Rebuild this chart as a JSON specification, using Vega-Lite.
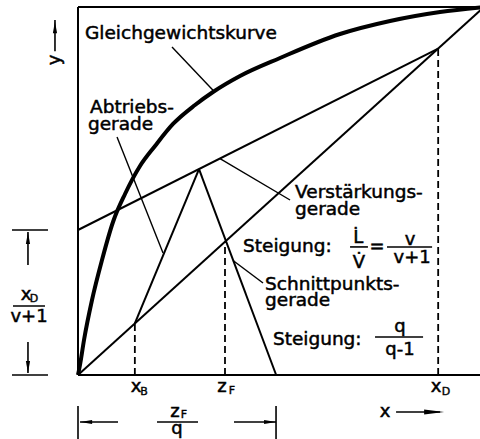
{
  "$schema": "https://vega.github.io/schema/vega-lite/v6.json",
  "width": 402,
  "height": 368,
  "autosize": {"type": "none"},
  "padding": {"left": 78, "top": 7, "right": 0, "bottom": 64},
  "background": "white",
  "config": {"view": {"stroke": null}},
  "datasets": {
    "curve": [
      {"x": 0, "y": 0}, {"x": 0.0049, "y": 0.0272}, {"x": 0.0148, "y": 0.0951}, {"x": 0.0345, "y": 0.2038},
      {"x": 0.0591, "y": 0.3125}, {"x": 0.0862, "y": 0.4158}, {"x": 0.1158, "y": 0.4918}, {"x": 0.1527, "y": 0.5679},
      {"x": 0.1897, "y": 0.6223}, {"x": 0.234, "y": 0.6821}, {"x": 0.2882, "y": 0.7337}, {"x": 0.3325, "y": 0.769},
      {"x": 0.399, "y": 0.8125}, {"x": 0.4975, "y": 0.8614}, {"x": 0.6453, "y": 0.9266}, {"x": 0.7685, "y": 0.962},
      {"x": 0.8916, "y": 0.9864}, {"x": 1, "y": 1}
    ],
    "border": [
      {"x": 0, "y": 0, "x2": 0, "y2": 1},
      {"x": 0, "y": 1, "x2": 0.99, "y2": 1},
      {"x": 0, "y": 0, "x2": 0.99, "y2": 0}
    ],
    "segs": [
      {"x": 0, "y": 0, "x2": 1, "y2": 1},
      {"x": 0, "y": 0.394, "x2": 0.887, "y2": 0.887},
      {"x": 0.14, "y": 0.14, "x2": 0.298, "y2": 0.5596},
      {"x": 0.298, "y": 0.5596, "x2": 0.488, "y2": 0}
    ],
    "leaders": [
      {"x": 0.2315, "y": 0.8913, "x2": 0.3325, "y2": 0.774},
      {"x": 0.0961, "y": 0.6467, "x2": 0.2094, "y2": 0.3315},
      {"x": 0.3498, "y": 0.588, "x2": 0.5222, "y2": 0.4755},
      {"x": 0.3818, "y": 0.311, "x2": 0.4557, "y2": 0.25}
    ],
    "thin": [
      {"x": 0.67, "y": 0.348, "x2": 0.714, "y2": 0.348},
      {"x": 0.761, "y": 0.348, "x2": 0.872, "y2": 0.348},
      {"x": 0.7315, "y": 0.1033, "x2": 0.8498, "y2": 0.1033},
      {"x": 0.1946, "y": -0.1277, "x2": 0.2956, "y2": -0.1277},
      {"x": -0.1601, "y": 0.1875, "x2": -0.0813, "y2": 0.1875},
      {"x": -0.1626, "y": 0.394, "x2": -0.0739, "y2": 0.394},
      {"x": -0.1626, "y": 0, "x2": -0.0739, "y2": 0},
      {"x": 0, "y": -0.084, "x2": 0, "y2": -0.19},
      {"x": 0.4877, "y": -0.084, "x2": 0.4877, "y2": -0.19},
      {"x": -0.1232, "y": 0.3886, "x2": -0.1232, "y2": 0.299},
      {"x": -0.1232, "y": 0.0897, "x2": -0.1232, "y2": 0.0054},
      {"x": 0.005, "y": -0.1277, "x2": 0.0985, "y2": -0.1277},
      {"x": 0.3842, "y": -0.1277, "x2": 0.4877, "y2": -0.1277},
      {"x": 0.7833, "y": -0.1005, "x2": 0.8916, "y2": -0.1005},
      {"x": -0.0567, "y": 0.88, "x2": -0.0567, "y2": 0.965}
    ],
    "dashed": [
      {"x": 0.14, "y": 0, "x2": 0.14, "y2": 0.14},
      {"x": 0.362, "y": 0, "x2": 0.362, "y2": 0.362},
      {"x": 0.887, "y": 0, "x2": 0.887, "y2": 0.887}
    ],
    "headsUp": [{"x": -0.1232, "y": 0.372}, {"x": -0.0567, "y": 0.945}],
    "headsDown": [{"x": -0.1232, "y": 0.022}],
    "headsLeft": [{"x": 0.02, "y": -0.1277}],
    "headsRight": [{"x": 0.473, "y": -0.1277}],
    "headsRightBig": [{"x": 0.877, "y": -0.1005}],
    "labelsLeft": [
      {"x": 0.0172, "y": 0.9144, "text": "Gleichgewichtskurve"},
      {"x": 0.0296, "y": 0.712, "text": "Abtriebs-"},
      {"x": 0.0246, "y": 0.6658, "text": "gerade"},
      {"x": 0.5345, "y": 0.481, "text": "Verstärkungs-"},
      {"x": 0.5345, "y": 0.4348, "text": "gerade"},
      {"x": 0.4064, "y": 0.335, "text": "Steigung:"},
      {"x": 0.4606, "y": 0.231, "text": "Schnittpunkts-"},
      {"x": 0.4606, "y": 0.1875, "text": "gerade"},
      {"x": 0.48, "y": 0.0815, "text": "Steigung:"}
    ],
    "labelsCenter": [
      {"x": 0.69, "y": 0.358, "text": "L̇"},
      {"x": 0.692, "y": 0.2908, "text": "V̇"},
      {"x": 0.7365, "y": 0.333, "text": "="},
      {"x": 0.8177, "y": 0.353, "text": "v"},
      {"x": 0.823, "y": 0.304, "text": "v+1"},
      {"x": 0.793, "y": 0.118, "text": "q"},
      {"x": 0.793, "y": 0.0543, "text": "q-1"},
      {"x": 0.1429, "y": -0.0462, "text": "x"},
      {"x": 0.3547, "y": -0.0462, "text": "z"},
      {"x": 0.8818, "y": -0.0462, "text": "x"},
      {"x": 0.7562, "y": -0.1141, "text": "x"},
      {"x": 0.2389, "y": -0.1141, "text": "z"},
      {"x": 0.2438, "y": -0.16, "text": "q"},
      {"x": -0.1281, "y": 0.2038, "text": "x"},
      {"x": -0.1207, "y": 0.144, "text": "v+1"}
    ],
    "subs": [
      {"x": 0.1626, "y": -0.0543, "text": "B"},
      {"x": 0.3793, "y": -0.0516, "text": "F"},
      {"x": 0.9064, "y": -0.0543, "text": "D"},
      {"x": 0.2611, "y": -0.1168, "text": "F"},
      {"x": -0.1084, "y": 0.1984, "text": "D"}
    ],
    "ylab": [{"x": -0.0567, "y": 0.856, "text": "y"}]
  },
  "encoding": {
    "x": {"field": "x", "type": "quantitative", "scale": {"domain": [0, 0.99]}, "axis": null},
    "y": {"field": "y", "type": "quantitative", "scale": {"domain": [0, 1]}, "axis": null}
  },
  "layer": [
    {
      "data": {"name": "border"},
      "mark": {"type": "rule", "color": "black", "strokeWidth": 2},
      "encoding": {"x2": {"field": "x2"}, "y2": {"field": "y2"}}
    },
    {
      "data": {"name": "segs"},
      "mark": {"type": "rule", "color": "black", "strokeWidth": 2},
      "encoding": {"x2": {"field": "x2"}, "y2": {"field": "y2"}}
    },
    {
      "data": {"name": "leaders"},
      "mark": {"type": "rule", "color": "black", "strokeWidth": 1.4},
      "encoding": {"x2": {"field": "x2"}, "y2": {"field": "y2"}}
    },
    {
      "data": {"name": "thin"},
      "mark": {"type": "rule", "color": "black", "strokeWidth": 1.6},
      "encoding": {"x2": {"field": "x2"}, "y2": {"field": "y2"}}
    },
    {
      "data": {"name": "dashed"},
      "mark": {"type": "rule", "color": "black", "strokeWidth": 1.8, "strokeDash": [7, 4]},
      "encoding": {"x2": {"field": "x2"}, "y2": {"field": "y2"}}
    },
    {
      "data": {"name": "curve"},
      "mark": {"type": "line", "color": "black", "strokeWidth": 4, "interpolate": "monotone", "clip": false},
      "encoding": {"order": {"field": "x", "type": "quantitative"}}
    },
    {
      "data": {"name": "headsUp"},
      "mark": {"type": "point", "shape": "M0,-1L0.35,1L-0.35,1Z", "size": 144, "filled": true, "color": "black", "opacity": 1}
    },
    {
      "data": {"name": "headsDown"},
      "mark": {"type": "point", "shape": "M0,1L0.35,-1L-0.35,-1Z", "size": 144, "filled": true, "color": "black", "opacity": 1}
    },
    {
      "data": {"name": "headsLeft"},
      "mark": {"type": "point", "shape": "M-1,0L1,-0.35L1,0.35Z", "size": 144, "filled": true, "color": "black", "opacity": 1}
    },
    {
      "data": {"name": "headsRight"},
      "mark": {"type": "point", "shape": "M1,0L-1,-0.35L-1,0.35Z", "size": 144, "filled": true, "color": "black", "opacity": 1}
    },
    {
      "data": {"name": "headsRightBig"},
      "mark": {"type": "point", "shape": "M1,0L-1,-0.25L-1,0.25Z", "size": 400, "filled": true, "color": "black", "opacity": 1}
    },
    {
      "data": {"name": "labelsLeft"},
      "mark": {"type": "text", "font": "DejaVu Sans", "fontSize": 18.5, "align": "left", "baseline": "alphabetic", "fill": "black", "stroke": "black", "strokeWidth": 0.5},
      "encoding": {"text": {"field": "text"}}
    },
    {
      "data": {"name": "labelsCenter"},
      "mark": {"type": "text", "font": "DejaVu Sans", "fontSize": 18, "align": "center", "baseline": "alphabetic", "fill": "black", "stroke": "black", "strokeWidth": 0.5},
      "encoding": {"text": {"field": "text"}}
    },
    {
      "data": {"name": "subs"},
      "mark": {"type": "text", "font": "DejaVu Sans", "fontSize": 11, "align": "center", "baseline": "alphabetic", "fill": "black", "stroke": "black", "strokeWidth": 0.4},
      "encoding": {"text": {"field": "text"}}
    },
    {
      "data": {"name": "ylab"},
      "mark": {"type": "text", "font": "DejaVu Sans", "fontSize": 18, "align": "center", "baseline": "middle", "angle": 270, "fill": "black", "stroke": "black", "strokeWidth": 0.5},
      "encoding": {"text": {"field": "text"}}
    }
  ]
}
